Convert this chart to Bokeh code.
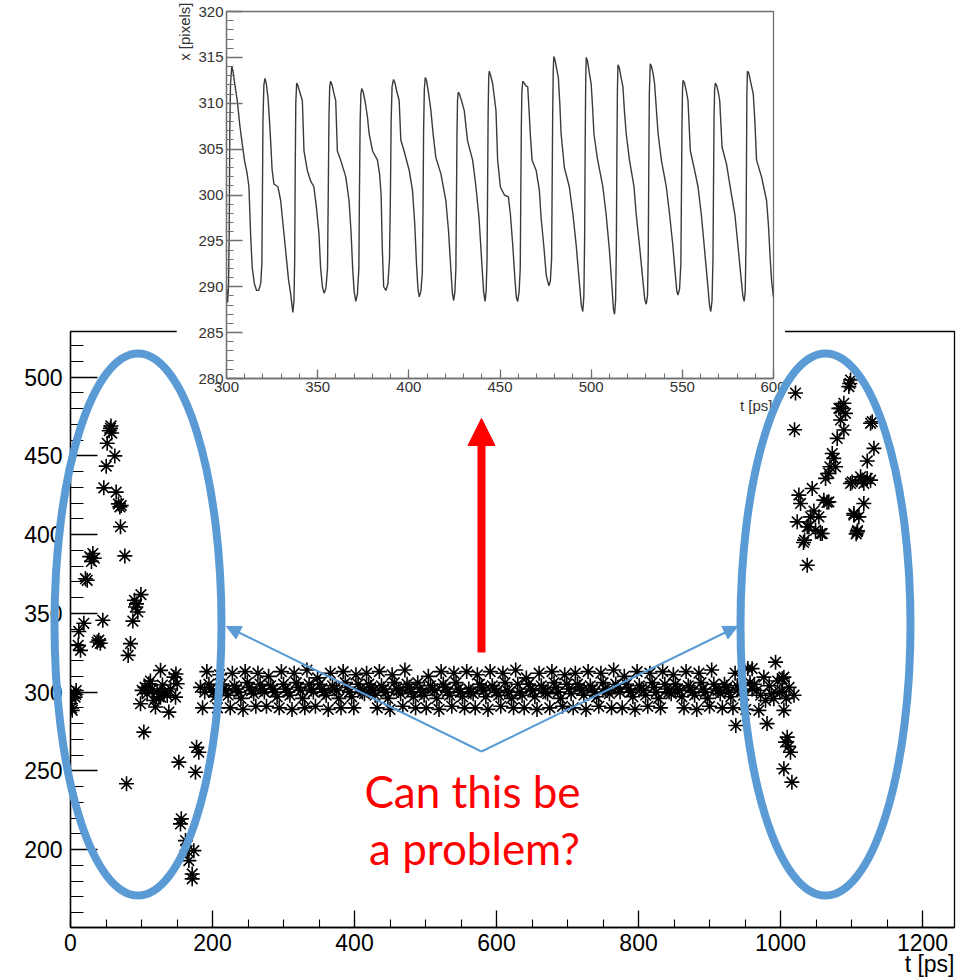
import math
import numpy as np
from bokeh.plotting import figure
from bokeh.layouts import column
from bokeh.models import Range1d, SingleIntervalTicker, Arrow, NormalHead
from bokeh.core.properties import value
from bokeh.embed import file_html
from bokeh.resources import INLINE

# ---------------------------------------------------------------- data
# Early, unstable part of the track (t in ps, x in pixels)
LEFT_T = [0.0, 1.5, 2.4, 4.7, 6.5, 7.5, 8.0, 10.8, 11.7, 14.1,
          18.8, 21.0, 23.5, 27.0, 29.5, 31.5, 33.5, 37.5, 39.9, 42.0,
          45.5, 46.9, 50.3, 51.7, 54.5, 56.3, 57.0, 58.0, 62.4, 64.3,
          67.5, 69.5, 70.4, 71.5, 76.5, 78.9, 81.2, 84.5, 87.8, 90.1,
          91.5, 93.0, 94.8, 98.6, 99.2, 100.9, 103.3, 105.0, 107.9, 110.3,
          112.5, 115.0, 117.4, 119.7, 122.0, 124.5, 126.8, 126.8, 129.5, 132.0,
          136.2, 138.5, 141.0, 145.5, 147.9, 148.5, 150.2, 152.6, 154.9, 156.0,
          162.0, 164.3, 166.7, 171.4, 171.4, 173.7, 176.0, 177.5, 180.7]
LEFT_X = [292.6, 290.0, 288.4, 299.0, 296.8, 298.5, 301.0, 329.7, 338.5, 326.5,
          343.7, 372.0, 371.0, 386.0, 383.0, 388.0, 385.0, 331.8, 333.0, 331.0,
          345.6, 429.7, 443.5, 458.0, 466.0, 467.5, 469.0, 464.5, 450.0, 427.0,
          419.5, 417.6, 405.0, 418.5, 386.5, 241.8, 323.3, 330.8, 345.1, 358.3,
          354.0, 356.0, 350.9, 292.6, 361.9, 301.1, 274.6, 303.0, 299.0, 305.3,
          307.0, 302.0, 294.7, 290.5, 300.0, 297.0, 313.8, 296.8, 304.5, 300.0,
          297.9, 287.3, 302.0, 309.5, 296.8, 311.5, 305.3, 255.5, 216.3, 219.5,
          205.7, 199.3, 193.0, 184.5, 181.4, 199.3, 249.1, 265.0, 261.8]

# Stable oscillation, one sample every BAND_DT ps starting at BAND_T0
BAND_T0 = 183.0
BAND_DT = 3.0
BAND_X = [
    303, 290, 300, 313, 305, 302,
    300, 297, 290, 311, 305, 302,
    301, 298, 290, 312, 304, 302,
    300, 296, 289, 313, 306, 303,
    301, 299, 291, 312, 305, 302,
    300, 291, 310, 304, 302, 300,
    297, 290, 313, 305, 302, 300,
    298, 289, 312, 306, 303, 301,
    296, 290, 314, 305, 302, 300,
    291, 309, 305, 302, 300, 298,
    289, 312, 304, 302, 301, 296,
    290, 313, 306, 303, 300, 297,
    290, 311, 305, 302, 300, 299,
    312, 305, 303, 301, 298, 290,
    313, 304, 302, 300, 296, 289,
    311, 306, 302, 301, 299, 291,
    314, 305, 303, 300, 297, 290,
    306, 302, 300, 298, 290, 310,
    304, 302, 301, 296, 289, 313,
    305, 303, 300, 298, 291, 312,
    306, 302, 300, 297, 290, 313,
    302, 300, 299, 290, 311, 305,
    303, 301, 297, 289, 313, 304,
    302, 300, 298, 291, 312, 306,
    301, 300, 296, 290, 314, 305,
    300, 298, 290, 309, 305, 302,
    301, 297, 289, 312, 304, 302,
    300, 299, 290, 313, 306, 303,
    300, 296, 291, 311, 305, 302,
    299, 290, 312, 305, 303, 301,
    298, 289, 313, 304, 302, 300,
    297, 291, 312, 306, 302, 301,
    299, 290, 314, 305, 303, 300,
    290, 310, 305, 302, 300, 297,
    289, 313, 304, 302, 301, 298,
    291, 312, 306, 303, 300, 296,
    290, 313, 305, 302, 300, 299,
    311, 305, 302, 301, 297, 290,
    313, 304, 303, 300, 298, 289,
    312, 306, 302, 300, 296, 291,
    314, 305, 302, 301, 299, 290,
    305, 303, 300, 297, 290, 312,
    304, 302, 301, 298, 289, 315,
    306, 302,
]

# Late part of the track, where it breaks up again
RIGHT_T = [937.0, 960.0, 963.0, 966.2, 969.5, 972.0, 976.5, 978.9, 981.0, 984.0,
           987.0, 990.6, 993.0, 996.0, 999.0, 1002.0, 1002.3, 1004.7, 1004.7, 1008.0,
           1012.0, 1019.0,
           1004.7, 1007.0, 1009.4, 1011.5, 1014.0, 1016.0,
           1019.7, 1021.1, 1023.5, 1025.8, 1028.2, 1032.4, 1033.8, 1037.6, 1037.6, 1039.9,
           1042.3, 1044.6, 1047.0, 1049.3, 1054.0, 1056.3, 1058.7, 1061.0, 1063.4, 1065.5,
           1068.0, 1068.0, 1069.5, 1072.8, 1075.0, 1077.5, 1079.8, 1082.2, 1084.5, 1084.5,
           1089.2, 1089.2, 1091.5, 1096.2, 1097.5, 1098.6, 1098.6, 1100.9, 1103.3, 1103.3,
           1106.5, 1107.9, 1108.5, 1110.3, 1112.7, 1115.0, 1117.3, 1117.3, 1122.1, 1122.1,
           1126.8, 1126.8, 1129.1, 1131.5]
RIGHT_X = [278.8, 314.9, 305.0, 301.0, 288.4, 298.0, 309.5, 294.7, 280.0, 304.0,
           299.0, 295.8, 319.0, 307.0, 300.0, 300.5, 308.5, 309.5, 288.4, 296.0,
           303.0, 298.0,
           251.3, 268.2, 271.4, 265.5, 261.8, 242.8,
           466.6, 489.9, 408.1, 425.1, 419.8, 395.0, 396.5, 405.0, 380.6, 405.0,
           411.3, 429.3, 415.0, 402.8, 411.3, 400.7, 400.7, 421.9, 435.7, 420.5,
           420.8, 438.9, 443.1, 451.5, 448.4, 443.1, 461.1, 480.2, 472.8, 480.2,
           466.4, 483.4, 477.0, 494.0, 496.0, 498.2, 432.5, 433.5, 412.4, 413.4,
           400.5, 401.7, 402.5, 411.3, 436.7, 434.6, 419.8, 432.5, 435.7, 446.8,
           434.6, 470.7, 471.7, 454.8]

# Zoomed trace between 300 and 600 ps (one line per oscillation)
INSET_T = [
    300.0, 300.6, 301.1, 301.5, 301.8, 302.2, 302.9, 303.6, 304.6, 305.9, 307.3, 308.6, 310.0, 311.2, 312.3, 313.2, 314.1, 315.3, 316.5,
    317.7, 318.8, 319.4, 319.7, 320.0, 320.5, 321.1, 321.8, 322.8, 323.6, 324.2, 325.0, 326.0, 328.2, 329.7, 330.6, 332.4, 334.0, 335.2,
    336.4, 337.0, 337.4, 337.7, 338.0, 338.5, 339.2, 340.5, 341.6, 342.5, 344.3, 346.0, 347.9, 349.3, 350.7, 351.6, 352.6,
    353.5, 354.5, 355.4, 355.8, 356.2, 356.6, 357.1, 357.9, 359.0, 359.9, 360.8, 362.6, 365.4, 367.2, 368.3, 369.2, 370.0,
    370.9, 371.8, 372.6, 372.9, 373.3, 373.7, 374.2, 375.0, 376.2, 377.3, 378.2, 380.1, 382.8, 384.0, 384.8, 385.4,
    386.2, 387.4, 388.5, 389.4, 389.9, 390.3, 390.8, 391.6, 392.4, 393.5, 394.7, 395.6, 397.4, 400.2, 402.0, 403.2, 404.2, 405.0,
    405.7, 406.6, 407.4, 407.8, 408.1, 408.5, 409.0, 409.7, 410.9, 412.1, 413.4, 414.8, 417.6, 420.3, 421.8, 423.0, 423.9,
    424.6, 425.3, 425.8, 426.1, 426.4, 426.7, 427.1, 427.8, 429.0, 430.4, 432.2, 435.0, 436.8, 438.5, 439.9, 441.0,
    441.8, 442.4, 442.9, 443.2, 443.5, 443.8, 444.1, 444.9, 446.0, 447.8, 448.7, 450.2, 452.4, 454.6, 455.7, 457.0, 458.3, 459.0,
    459.7, 460.5, 461.1, 461.4, 461.7, 462.0, 462.5, 463.3, 464.2, 465.2, 466.0, 466.6, 467.6, 469.8, 471.6, 472.5, 474.0, 475.4,
    476.8, 477.6, 478.3, 478.6, 478.9, 479.2, 479.5, 480.3, 481.2, 482.0, 482.8, 483.5, 485.3, 488.0, 490.0, 491.8, 493.5, 494.6,
    495.4, 496.0, 496.4, 496.7, 497.0, 497.3, 498.0, 499.0, 500.0, 500.8, 501.5, 503.3, 506.4, 508.2, 510.0, 511.4, 512.2,
    512.8, 513.4, 513.8, 514.1, 514.4, 514.7, 515.4, 516.4, 517.4, 518.3, 519.2, 521.0, 523.5, 524.7, 526.5, 528.2, 529.4,
    530.2, 530.9, 531.3, 531.6, 531.9, 532.4, 533.1, 534.0, 534.8, 535.7, 536.7, 538.5, 541.2, 543.0, 544.8, 546.3, 547.0,
    547.6, 548.5, 549.2, 549.5, 549.8, 550.1, 550.4, 551.2, 552.2, 553.1, 554.4, 556.4, 558.6, 560.4, 562.2, 563.8, 564.9,
    565.6, 566.3, 566.8, 567.1, 567.4, 567.7, 568.1, 568.9, 569.8, 570.5, 571.8, 574.2, 576.9, 578.8, 580.5, 582.2, 583.2,
    583.9, 584.5, 584.9, 585.2, 585.4, 585.7, 586.4, 587.5, 588.9, 589.8, 590.7, 593.4, 596.2, 597.3, 598.2, 599.0, 600.0,
]
INSET_X = [
    289.8, 288.3, 290.0, 296.0, 306.7, 312.1, 314.0, 313.5, 312.0, 310.3, 307.6, 305.6, 303.6, 302.5, 300.9, 295.8, 292.1, 290.3, 289.6,
    289.6, 290.4, 292.5, 300.0, 308.0, 312.0, 312.7, 312.2, 310.5, 308.0, 305.9, 302.8, 301.2, 300.9, 299.4, 297.6, 294.0, 290.8, 289.2,
    287.2, 288.5, 293.0, 303.0, 310.0, 312.2, 311.9, 311.0, 310.3, 304.8, 302.7, 301.6, 300.9, 298.7, 295.8, 292.1, 290.0,
    289.3, 289.8, 292.0, 300.0, 308.5, 311.8, 312.4, 312.0, 311.0, 310.3, 304.8, 303.8, 302.0, 299.4, 296.0, 292.0, 289.5,
    288.4, 289.2, 292.0, 300.0, 308.0, 311.0, 311.6, 311.2, 310.0, 308.5, 306.7, 304.8, 303.8, 302.2, 300.0, 294.5,
    290.0, 289.6, 290.3, 293.0, 300.0, 308.0, 311.8, 312.6, 312.2, 311.2, 310.3, 306.0, 304.8, 302.7, 300.5, 297.0, 292.5, 289.8,
    288.9, 289.5, 291.5, 299.0, 307.0, 311.5, 312.8, 312.5, 311.0, 309.2, 306.5, 304.1, 302.3, 299.4, 296.0, 292.0, 289.3,
    288.5, 289.5, 292.0, 299.0, 306.5, 310.3, 311.2, 311.0, 310.2, 309.2, 305.9, 303.8, 300.9, 297.5, 293.0, 289.5,
    288.4, 289.5, 293.0, 301.0, 309.0, 312.8, 313.5, 313.0, 312.1, 309.2, 303.8, 300.9, 300.0, 299.8, 297.9, 294.5, 290.5, 288.8,
    288.4, 289.5, 292.0, 300.0, 307.5, 311.3, 312.4, 312.2, 311.9, 311.8, 309.0, 306.7, 303.8, 302.7, 300.5, 297.6, 294.5, 291.2,
    290.1, 290.6, 293.0, 301.0, 309.0, 313.5, 315.1, 314.6, 313.6, 312.8, 310.0, 306.7, 303.0, 300.9, 297.9, 294.5, 290.5, 288.0,
    287.3, 289.0, 295.0, 305.0, 312.5, 315.0, 314.6, 313.3, 312.1, 309.5, 306.7, 304.1, 300.9, 297.9, 294.0, 290.0, 287.6,
    287.0, 288.5, 294.0, 304.0, 311.5, 314.2, 313.9, 312.8, 311.8, 309.0, 306.7, 303.8, 300.9, 297.9, 294.5, 291.0, 288.6,
    288.1, 289.0, 293.5, 303.0, 311.0, 314.3, 314.0, 313.2, 312.1, 309.5, 306.7, 303.8, 300.9, 297.9, 294.5, 291.0, 289.5,
    289.1, 289.8, 292.5, 300.0, 307.5, 311.5, 312.5, 312.2, 311.3, 310.3, 304.8, 303.0, 300.9, 297.9, 294.0, 290.5, 288.0,
    287.3, 288.5, 293.0, 301.0, 308.5, 311.5, 312.2, 311.9, 311.1, 310.3, 305.2, 303.4, 300.1, 297.9, 294.5, 291.0, 289.0,
    288.4, 289.5, 294.5, 304.0, 311.0, 313.5, 313.3, 312.3, 311.0, 308.0, 303.8, 302.0, 299.4, 296.5, 293.0, 290.5, 288.9,
]

# ---------------------------------------------------------------- layout
W, H = 973, 980
AXIS_FONT = "Liberation Sans"
NOTE_FONT = "Lato"
BLUE = "#5B9BD5"
RED = "#FF0000"
INSET_GREY = "#707070"


def style_axis(ax, font_size, text_color, major_in, minor_in, standoff, line_color):
    ax.major_tick_out = 0
    ax.minor_tick_out = 0
    ax.major_tick_in = major_in
    ax.minor_tick_in = minor_in
    ax.axis_line_color = line_color
    ax.major_tick_line_color = line_color
    ax.minor_tick_line_color = line_color
    ax.axis_line_width = 1.3
    ax.major_tick_line_width = 1.3
    ax.minor_tick_line_width = 1.1
    ax.major_label_text_font = AXIS_FONT
    ax.major_label_text_font_size = font_size
    ax.major_label_text_color = text_color
    ax.major_label_standoff = standoff


def unaligned(fig):
    # each plot keeps its own borders instead of lining up with its neighbours
    try:
        fig.frame_align = False
    except (AttributeError, ValueError):
        pass
    return fig


band_t = BAND_T0 + BAND_DT * np.arange(len(BAND_X))
t_all = np.concatenate([LEFT_T, band_t, RIGHT_T])
x_all = np.concatenate([LEFT_X, BAND_X, RIGHT_X])

# main scatter plot
main = figure(width=W, height=H, x_range=Range1d(0, 1245), y_range=Range1d(150.5, 529),
              min_border_left=70, min_border_right=19, min_border_top=331, min_border_bottom=53,
              toolbar_location=None, tools="", output_backend="svg", title=None)
unaligned(main)
main.grid.visible = False
main.outline_line_color = "black"
main.outline_line_width = 1.3
main.background_fill_color = "white"
main.border_fill_color = "white"
main.xaxis.ticker = SingleIntervalTicker(interval=200, num_minor_ticks=4)
main.yaxis.ticker = SingleIntervalTicker(interval=50, num_minor_ticks=5)
style_axis(main.xaxis[0], "23px", "black", 17, 8, 6, "black")
style_axis(main.yaxis[0], "23px", "black", 27, 13, 8, "black")
main.scatter(t_all, x_all, marker="asterisk", size=15, line_color="black", line_width=1.6)

# zoomed trace, laid over the top of the main plot
inset = figure(width=609, height=418, x_range=Range1d(300, 600), y_range=Range1d(280, 320),
               min_border_left=50, min_border_right=12, min_border_top=11, min_border_bottom=40,
               toolbar_location=None, tools="", output_backend="svg", title=None)
unaligned(inset)
inset.grid.visible = False
inset.outline_line_color = INSET_GREY
inset.outline_line_width = 1.3
inset.background_fill_color = "white"
inset.border_fill_color = "white"
inset.xaxis.ticker = SingleIntervalTicker(interval=50, num_minor_ticks=5)
inset.yaxis.ticker = SingleIntervalTicker(interval=5, num_minor_ticks=5)
style_axis(inset.xaxis[0], "15px", "#333333", 9, 5, 3, INSET_GREY)
style_axis(inset.yaxis[0], "15px", "#333333", 16, 7, 3, INSET_GREY)
inset.line(INSET_T, INSET_X, line_color="#3a3a3a", line_width=1.4)
inset.margin = (-H, 0, 0, 176)

# transparent sheet on top for axis titles and the hand-drawn callouts (pixel space)
over = figure(width=W, height=H, x_range=Range1d(0, W), y_range=Range1d(H, 0),
              min_border=0, x_axis_location=None, y_axis_location=None,
              toolbar_location=None, tools="", output_backend="svg", title=None)
unaligned(over)
over.grid.visible = False
over.outline_line_color = None
over.background_fill_alpha = 0
over.border_fill_alpha = 0
over.margin = (-418, 0, 0, 0)

over.text(x=[954], y=[963], text=["t [ps]"], text_font=value(AXIS_FONT),
          text_font_size="23px", text_align="right", text_baseline="alphabetic",
          text_color="black")
over.text(x=[772], y=[405], text=["t [ps]"], text_font=value(AXIS_FONT),
          text_font_size="15px", text_align="right", text_baseline="alphabetic",
          text_color="#333333")
over.text(x=[192], y=[2], text=["x [pixels]"], angle=math.pi / 2, text_font=value(AXIS_FONT),
          text_font_size="15px", text_align="right", text_baseline="bottom",
          text_color="#333333")

over.ellipse(x=[137.5, 825], y=[624, 624], width=[167, 170], height=[542, 542],
             fill_color=None, line_color=BLUE, line_width=8)

for x_tip in (226, 737):
    over.add_layout(Arrow(end=NormalHead(size=14, fill_color=BLUE, line_color=BLUE, line_width=1),
                          x_start=481, y_start=751, x_end=x_tip, y_end=626,
                          line_color=BLUE, line_width=2))

over.add_layout(Arrow(end=NormalHead(size=27, fill_color=RED, line_color=RED, line_width=1),
                      x_start=481, y_start=652, x_end=481, y_end=418,
                      line_color=RED, line_width=8))

over.text(x=[472, 474], y=[790, 847], text=["Can this be", "a problem?"],
          text_font=value(NOTE_FONT), text_font_size="44px", text_align="center",
          text_baseline="alphabetic", text_color=RED)

layout = column(main, inset, over)

open("out.html", "w").write(file_html(layout, INLINE))
